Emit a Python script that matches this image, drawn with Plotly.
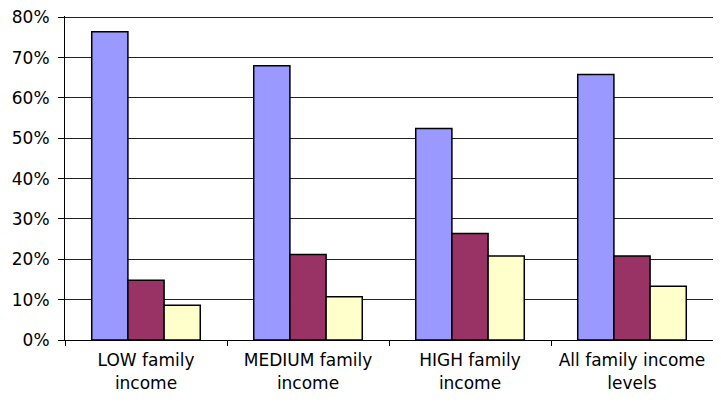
import plotly.graph_objects as go

categories = ["LOW family<br>income", "MEDIUM family<br>income", "HIGH family<br>income", "All family income<br>levels"]
series_a = [0.764, 0.680, 0.524, 0.658]
series_b = [0.148, 0.212, 0.264, 0.208]
series_c = [0.086, 0.107, 0.208, 0.133]
y_ticks = [0, 0.1, 0.2, 0.3, 0.4, 0.5, 0.6, 0.7, 0.8]
y_tick_labels = ["0%", "10%", "20%", "30%", "40%", "50%", "60%", "70%", "80%"]
colors = ["#9999FF", "#993366", "#FFFFCC"]

fig = go.Figure()
for vals, col in zip([series_a, series_b, series_c], colors):
    fig.add_trace(go.Bar(x=categories, y=vals, marker=dict(color=col, line=dict(color="black", width=1.5)),
                         showlegend=False, hoverinfo="skip"))

# page body has an 8px margin, so the figure is sized to fit the 721x402 window
fig.update_layout(
    width=705, height=386,
    margin=dict(l=57, r=0, t=8, b=54, autoexpand=False),
    paper_bgcolor="white", plot_bgcolor="white",
    barmode="group", bargap=0.33, bargroupgap=0,
    font=dict(family="DejaVu Sans, sans-serif", size=17, color="black"),
)
fig.update_xaxes(showline=True, linecolor="black", linewidth=1, ticks="outside", tickson="boundaries",
                 ticklen=5, tickcolor="black", showgrid=False, automargin=False, tickfont=dict(size=17),
                 ticklabelstandoff=5)
fig.update_yaxes(range=[0, 0.803], tickmode="array", tickvals=y_ticks, ticktext=y_tick_labels,
                 showline=True, linecolor="black", linewidth=1,
                 ticks="outside", ticklen=6, tickcolor="black", showgrid=True, gridcolor="#222222",
                 gridwidth=1, zeroline=False, automargin=False, tickfont=dict(size=17),
                 ticklabelstandoff=5, ticklabeloverflow="allow")
fig.write_html("out.html")
